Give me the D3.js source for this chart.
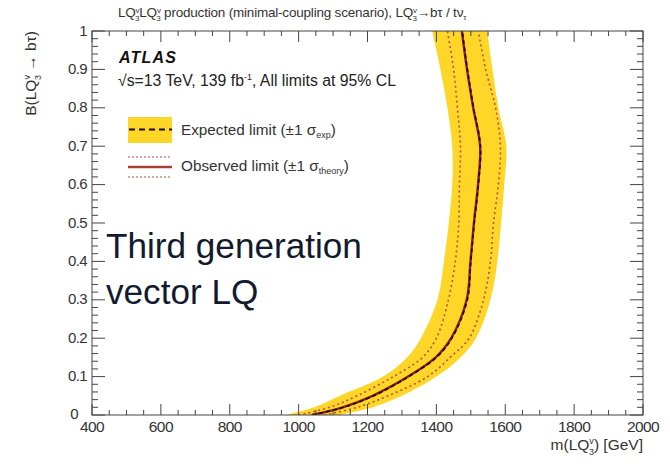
<!DOCTYPE html>
<html><head><meta charset="utf-8">
<script src="https://cdn.jsdelivr.net/npm/d3@7"></script>
<style>body{margin:0;background:#fff}svg{display:block}text{font-family:"Liberation Sans",Arial,sans-serif}</style>
</head><body>
<svg id="c" width="670" height="465"></svg>
<script>
// Branching ratio values
const B = [0, 0.02, 0.05, 0.1, 0.15, 0.2, 0.3, 0.4, 0.5, 0.6, 0.7, 0.8, 0.9, 1.0];
// Expected limit (GeV) and ±1 sigma band
const expCentral = [1040, 1130, 1218, 1320, 1400, 1445, 1490, 1500, 1510, 1522, 1528, 1508, 1490, 1475];
const expLow     = [965, 1045, 1120, 1245, 1315, 1355, 1403, 1422, 1436, 1446, 1446, 1432, 1412, 1388];
const expHigh    = [1120, 1215, 1300, 1400, 1470, 1515, 1557, 1577, 1588, 1597, 1603, 1580, 1563, 1548];
// Observed limit and ±1 sigma theory
const obsCentral = [1038, 1128, 1215, 1318, 1398, 1443, 1488, 1499, 1509, 1521, 1527, 1507, 1489, 1474];
const obsLow     = [1000, 1090, 1170, 1275, 1360, 1400, 1435, 1455, 1465, 1467, 1470, 1461, 1450, 1432];
const obsHigh    = [1075, 1170, 1260, 1375, 1440, 1495, 1537, 1557, 1566, 1580, 1586, 1572, 1543, 1522];
const xTicks = [400, 600, 800, 1000, 1200, 1400, 1600, 1800, 2000];
const yTicks = [0, 0.1, 0.2, 0.3, 0.4, 0.5, 0.6, 0.7, 0.8, 0.9, 1];

const svg = d3.select("#c");
const L = 92, R = 643, T = 31, Bt = 415;
const x = d3.scaleLinear().domain([400, 2000]).range([L, R]);
const y = d3.scaleLinear().domain([0, 1]).range([Bt, T]);

svg.append("clipPath").attr("id","clip").append("rect")
  .attr("x", L).attr("y", T).attr("width", R-L).attr("height", Bt-T);
const g = svg.append("g").attr("clip-path","url(#clip)");

const rows = B.map((b,i)=>({b, ec:expCentral[i], el:expLow[i], eh:expHigh[i], oc:obsCentral[i], ol:obsLow[i], oh:obsHigh[i]}));
const curve = d3.curveCatmullRom;
g.append("path").datum(rows)
  .attr("d", d3.area().curve(curve).y(d=>y(d.b)).x0(d=>x(d.el)).x1(d=>x(d.eh)))
  .attr("fill", "#fdd628");
const line = key => d3.line().curve(curve).y(d=>y(d.b)).x(d=>x(d[key]));
["ol","oh"].forEach(k=>g.append("path").datum(rows).attr("d", line(k))
  .attr("fill","none").attr("stroke","#b5504a").attr("stroke-width",1.6).attr("stroke-dasharray","2,3"));
g.append("path").datum(rows).attr("d", line("oc"))
  .attr("fill","none").attr("stroke","#8c1c16").attr("stroke-width",2.4);
g.append("path").datum(rows).attr("d", line("ec"))
  .attr("fill","none").attr("stroke","#1a0a00").attr("stroke-width",1.6).attr("stroke-dasharray","4,3");

// frame
svg.append("rect").attr("x",L).attr("y",T).attr("width",R-L).attr("height",Bt-T)
  .attr("fill","none").attr("stroke","#444").attr("stroke-width",1);

// ticks
const tk = svg.append("g").attr("stroke","#444").attr("stroke-width",1);
d3.range(400, 2001, 50).forEach(v=>{
  const major = v % 200 === 0, len = major ? 11 : 5;
  tk.append("line").attr("x1",x(v)).attr("x2",x(v)).attr("y1",Bt).attr("y2",Bt-len);
  tk.append("line").attr("x1",x(v)).attr("x2",x(v)).attr("y1",T).attr("y2",T+len);
});
d3.range(0, 51).forEach(i=>{
  const v = i/50, major = i % 5 === 0, len = major ? 13 : 6;
  tk.append("line").attr("y1",y(v)).attr("y2",y(v)).attr("x1",L).attr("x2",L+len);
  tk.append("line").attr("y1",y(v)).attr("y2",y(v)).attr("x1",R).attr("x2",R-len);
});
svg.append("g").selectAll("text").data(xTicks).join("text")
  .attr("x",d=>x(d)).attr("y",432).attr("text-anchor","middle")
  .attr("font-size",15.5).attr("fill","#333").attr("letter-spacing",-0.6).text(d=>d);
svg.append("g").selectAll("text").data(yTicks).join("text")
  .attr("x",d=>d===0 ? 78 : 87).attr("y",d=>y(d)+(d===0 ? 3.5 : 4.5)).attr("text-anchor","end")
  .attr("font-size",15).attr("fill","#333").attr("letter-spacing",-0.6).text(d=>d);

// helper: text with sup/sub using relative dy shifts
function rich(sel, parts){
  let cur = 0;
  parts.forEach(p=>{
    const t = sel.append("tspan").text(p.t);
    const target = p.dy || 0;
    if (target !== cur) { t.attr("dy", target - cur); cur = target; }
    if (p.fs) t.attr("font-size", p.fs);
    if (p.dx) t.attr("dx", p.dx);
  });
}
const LQ = (fs, s)=>[{t:"LQ"},{t:"v",fs:fs,dy:-s},{t:"3",fs:fs,dx:-fs*0.55,dy:s*0.9}];

// axis titles
const xt = svg.append("text").attr("x",643).attr("y",450).attr("text-anchor","end").attr("font-size",15.5).attr("fill","#333");
rich(xt, [{t:"m("}, ...LQ(9,6), {t:") [GeV]"}]);

const yt = svg.append("g").attr("transform","translate(36,31) rotate(-90)").append("text")
  .attr("x",0).attr("y",0).attr("text-anchor","end").attr("font-size",15.5).attr("fill","#333");
rich(yt, [{t:"B("}, ...LQ(9,6), {t:" → bτ)"}]);

// top title
const tt = svg.append("text").attr("x",118).attr("y",17).attr("font-size",13.5).attr("fill","#333").attr("letter-spacing",-0.2);
rich(tt, [...LQ(8,4.5), ...LQ(8,4.5), {t:" production (minimal-coupling scenario), "}, ...LQ(8,4.5), {t:"→bτ / tν"}, {t:"τ",fs:8,dy:3}]);

// ATLAS label
svg.append("text").attr("x",119).attr("y",63).attr("font-size",16).attr("letter-spacing",1.2).attr("font-weight","bold").attr("font-style","italic").attr("fill","#111").text("ATLAS");
const en = svg.append("text").attr("x",118).attr("y",86).attr("font-size",15.8).attr("fill","#222");
rich(en, [{t:"√s=13 TeV, 139 fb"},{t:"-1",fs:9,dy:-6},{t:", All limits at 95% CL"}]);

// legend
svg.append("rect").attr("x",128).attr("y",117).attr("width",44).attr("height",26).attr("fill","#fdd628");
svg.append("line").attr("x1",129).attr("x2",172).attr("y1",129.5).attr("y2",129.5).attr("stroke","#1a0a00").attr("stroke-width",2).attr("stroke-dasharray","6,4");
[157,177].forEach(yy=>svg.append("line").attr("x1",128).attr("x2",172).attr("y1",yy).attr("y2",yy).attr("stroke","#b5504a").attr("stroke-width",1.2).attr("stroke-dasharray","2,2"));
svg.append("line").attr("x1",128).attr("x2",172).attr("y1",167).attr("y2",167).attr("stroke","#a8403a").attr("stroke-width",2.4);
const l1 = svg.append("text").attr("x",181).attr("y",135).attr("font-size",15.3).attr("fill","#333");
rich(l1, [{t:"Expected limit (±1 σ"},{t:"exp",fs:9,dy:3},{t:")"}]);
const l2 = svg.append("text").attr("x",181).attr("y",171).attr("font-size",15.3).attr("fill","#333");
rich(l2, [{t:"Observed limit (±1 σ"},{t:"theory",fs:9,dy:3},{t:")"}]);

// annotation, sized to the reference width
const annLines = ["Third generation", "vector LQ"];
const annY = [258, 304];
const annTexts = annLines.map((s,i)=>svg.append("text").attr("x",106).attr("y",annY[i])
  .attr("font-family","Lato, 'Open Sans', sans-serif").attr("font-size",28).attr("fill","#111a2e").text(s));
const fsFit = 28 * 256 / annTexts[0].node().getComputedTextLength();
annTexts.forEach(t=>t.attr("font-size", fsFit));
</script>
</body></html>
